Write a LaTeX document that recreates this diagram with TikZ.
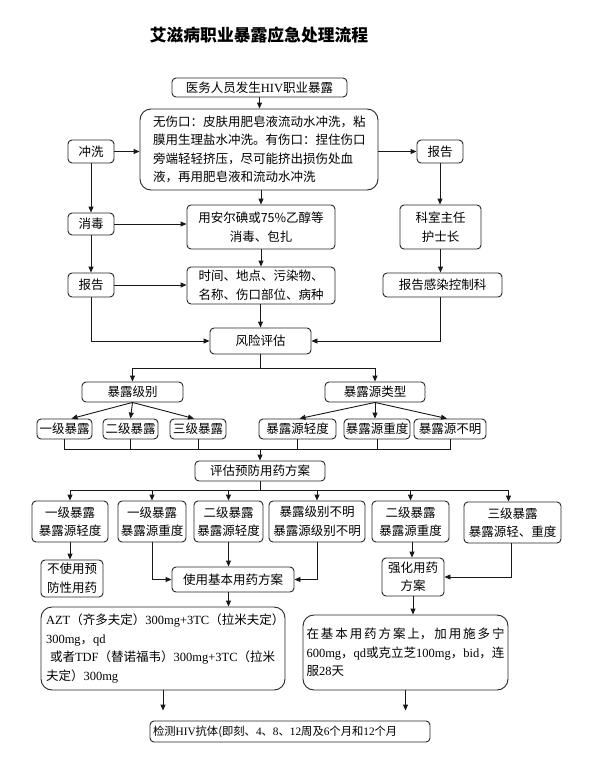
\documentclass[tikz,border=0pt]{standalone}
\usepackage{fontspec}
\setmainfont{Noto Sans CJK SC}
\newfontfamily\latf{Liberation Serif}
\newcommand\LS[1]{{\latf #1}}
\usetikzlibrary{arrows.meta}
\tikzset{
  box/.style={draw=black!85, line width=0.9pt, rounded corners=4pt, fill=white,
    inner sep=0pt, align=center, font=\fontsize{12.5}{18.5}\selectfont},
  bigbox/.style={box, rounded corners=11pt, align=left},
  arr/.style={-{Triangle[length=6pt,width=5pt]}, line width=0.9pt, draw=black!90},
  ln/.style={line width=0.9pt, draw=black!90},
}
\begin{document}
\begin{tikzpicture}[x=1pt,y=-1pt]
\useasboundingbox[fill=white] (0,0) rectangle (592,763);

\node[font=\fontsize{16.8}{20}\selectfont\bfseries] (title) at (259,35) {艾滋病职业暴露应急处理流程};

\node[box, minimum width=175pt, minimum height=19pt] (A) at (259.5,87.5) {医务人员发生\LS{HIV}职业暴露};
\node[bigbox, text width=212pt, inner xsep=13pt, minimum height=81pt] (B) at (259,149.5)
  {无伤口：皮肤用肥皂液流动水冲洗，粘\\膜用生理盐水冲洗。有伤口：捏住伤口\\旁端轻轻挤压，尽可能挤出损伤处血\\液，再用肥皂液和流动水冲洗};
\node[box, minimum width=46pt, minimum height=23pt] (chongxi) at (91,151.5) {冲洗};
\node[box, minimum width=46pt, minimum height=23pt] (baogaoR) at (440,151.5) {报告};
\node[box, minimum width=46pt, minimum height=22pt] (xiaodu) at (91,224) {消毒};
\node[box, minimum width=148pt, minimum height=44pt] (anerdian) at (261,227) {用安尔碘或75\%乙醇等\\消毒、包扎};
\node[box, minimum width=81pt, minimum height=44pt] (keshi) at (440.5,227) {科室主任\\护士长};
\node[box, minimum width=46pt, minimum height=24pt] (baogaoL) at (91,285) {报告};
\node[box, minimum width=148pt, minimum height=37pt] (shijian) at (261,285.5) {时间、地点、污染物、\\名称、伤口部位、病种};
\node[box, minimum width=119pt, minimum height=24pt] (ganran) at (442.5,285) {报告感染控制科};
\node[box, minimum width=101pt, minimum height=26pt] (fengxian) at (260.5,341) {风险评估};

\node[box, minimum width=101pt, minimum height=20pt] (jibie) at (132.5,392) {暴露级别};
\node[box, minimum width=100pt, minimum height=20pt] (leixing) at (375,392) {暴露源类型};

\node[box, minimum width=55pt, minimum height=20pt] (l1) at (64.5,429) {一级暴露};
\node[box, minimum width=55pt, minimum height=20pt] (l2) at (130.5,429) {二级暴露};
\node[box, minimum width=56pt, minimum height=20pt] (l3) at (198,429) {三级暴露};
\node[box, minimum width=77pt, minimum height=20pt] (s1) at (297.5,429) {暴露源轻度};
\node[box, minimum width=66pt, minimum height=20pt] (s2) at (377,429) {暴露源重度};
\node[box, minimum width=72pt, minimum height=20pt] (s3) at (450,429) {暴露源不明};

\node[box, minimum width=130pt, minimum height=20pt] (pinggu) at (260,471) {评估预防用药方案};

\node[box, minimum width=76pt, minimum height=41pt] (b1) at (70,521.5) {一级暴露\\暴露源轻度};
\node[box, minimum width=68pt, minimum height=41pt] (b2) at (152,521.5) {一级暴露\\暴露源重度};
\node[box, minimum width=69pt, minimum height=41pt] (b3) at (228.5,521.5) {二级暴露\\暴露源轻度};
\node[box, minimum width=96pt, minimum height=41pt] (b4) at (317,521.5) {暴露级别不明\\暴露源级别不明};
\node[box, minimum width=77pt, minimum height=41pt] (b5) at (410.5,521.5) {二级暴露\\暴露源重度};
\node[box, minimum width=97pt, minimum height=41pt] (b6) at (512.5,522.5) {三级暴露\\暴露源轻、重度};

\node[box, minimum width=62pt, minimum height=37pt] (buyong) at (72,578.5) {不使用预\\防性用药};
\node[box, minimum width=122pt, minimum height=25pt] (jiben) at (233,579.5) {使用基本用药方案};
\node[box, minimum width=62pt, minimum height=38pt] (qianghua) at (413,577) {强化用药\\方案};

\node[bigbox, text width=234pt, inner xsep=5pt, minimum height=83pt] (azt) at (163,648.5)
  {\LS{AZT}（齐多夫定）\LS{300mg+3TC}（拉米夫定）\\\LS{300mg}，\LS{qd}\\\hspace*{4pt}或者\LS{TDF}（替诺福韦）\LS{300mg+3TC}（拉米\\夫定）\LS{300mg}};
\node[bigbox, text width=198pt, inner xsep=3.5pt, minimum height=75pt] (zaijiben) at (405.5,652.5)
  {\hbox to 198pt{在\hfil 基\hfil 本\hfil 用\hfil 药\hfil 方\hfil 案\hfil 上，\hfil 加\hfil 用\hfil 施\hfil 多\hfil 宁}\\\LS{600mg}，\LS{qd}或克立芝\LS{100mg}，\LS{bid}，连\\服\LS{28}天};
\node[box, minimum width=280pt, minimum height=21pt, inner xsep=3pt, align=left, font=\fontsize{11.3}{14}\selectfont, text width=274pt] (jiance) at (290,731.5)
  {检测\LS{HIV}抗体(即刻、\LS{4}、\LS{8}、\LS{12}周及\LS{6}个月和\LS{12}个月};

% connectors
\draw[arr] (A.south) -- (A.south |- B.north);
\draw[arr] (chongxi.east) -- (chongxi.east -| B.west);
\draw[arr] (B.east |- baogaoR.west) -- (baogaoR.west);
\draw[arr] (chongxi.south) -- (xiaodu.north);
\draw[arr] (xiaodu.east) -- (xiaodu.east -| anerdian.west);
\draw[arr] (anerdian.north |- B.south) -- (anerdian.north);
\draw[arr] (xiaodu.south) -- (baogaoL.north);
\draw[arr] (anerdian.south) -- (shijian.north);
\draw[arr] (baogaoL.east) -- (baogaoL.east -| shijian.west);
\draw[arr] (baogaoR.south) -- (baogaoR.south |- keshi.north);
\draw[arr] (keshi.south) -- (keshi.south |- ganran.north);
\draw[arr] (shijian.south -| fengxian.north) -- (fengxian.north);
\draw[arr] (baogaoL.south) |- (fengxian.west);
\draw[arr] (keshi.south |- ganran.south) |- (fengxian.east);

\coordinate (bar1) at (260.5,368);
\draw[ln] (fengxian.south) -- (bar1);
\draw[arr] (bar1) -| (jibie.north);
\draw[arr] (bar1) -| (leixing.north);

\draw[arr] (jibie.south) -- ([xshift=7pt]l1.north);
\draw[arr] (jibie.south) -- (l2.north);
\draw[arr] (jibie.south) -- ([xshift=-4pt]l3.north);
\draw[arr] (leixing.south) -- ([xshift=2pt]s1.north);
\draw[arr] (leixing.south) -- ([xshift=-2pt]s2.north);
\draw[arr] (leixing.south) -- ([xshift=-3pt]s3.north);

\coordinate (bar2) at (260,449);
\draw[ln] (l1.south) -- (l1.south |- bar2) -- (s3.south |- bar2) -- (s3.south);
\foreach \n in {l2,l3,s1,s2} \draw[ln] (\n.south) -- (\n.south |- bar2);
\draw[arr] (bar2) -- (bar2 |- pinggu.north);

\coordinate (bar3) at (260,490);
\draw[ln] (pinggu.south) -- (bar3);
\draw[ln] (b1.north |- bar3) -- ([xshift=-4pt]b6.north |- bar3);
\foreach \n in {b1,b2,b3,b4,b5} \draw[arr] (\n.north |- bar3) -- (\n.north);
\draw[arr] ([xshift=-4pt]b6.north |- bar3) -- ([xshift=-4pt]b6.north);

\draw[arr] (b1.south) -- (b1.south |- buyong.north);
\draw[arr] (b2.south) |- (jiben.west);
\draw[arr] (b3.south) -- (b3.south |- jiben.north);
\draw[arr] (b4.south) |- (jiben.east);
\draw[arr] ([xshift=1.5pt]b5.south) -- ([xshift=1.5pt]b5.south |- qianghua.north);
\draw[arr] ([xshift=-1.5pt]b6.south) |- (qianghua.east);
\draw[arr] (b3.south |- jiben.south) -- (b3.south |- azt.north);
\draw[arr] (qianghua.south) -- (qianghua.south |- zaijiben.north);
\draw[arr, shorten >=10pt] (azt.south) -- (azt.south |- jiance.north);
\draw[arr, shorten >=10pt] (zaijiben.south) -- (zaijiben.south |- jiance.north);
\end{tikzpicture}
\end{document}
